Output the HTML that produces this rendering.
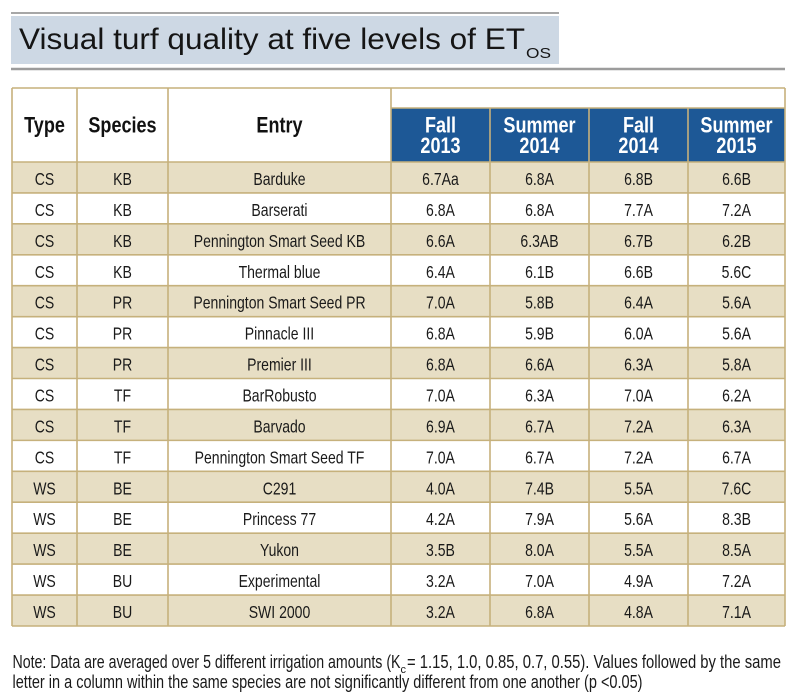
<!DOCTYPE html>
<html>
<head>
<meta charset="utf-8">
<style>
  html,body{margin:0;padding:0;background:#fff;}
  svg{display:block;}
  .t{font-family:"Liberation Sans",sans-serif;font-size:18px;fill:#1a1a1a;}
  .h{font-family:"Liberation Sans",sans-serif;font-size:22px;font-weight:bold;fill:#111;}
  .hw{font-family:"Liberation Sans",sans-serif;font-size:22px;font-weight:bold;fill:#fff;}
  .n{font-family:"Liberation Sans",sans-serif;font-size:18px;fill:#1a1a1a;}
  .title{font-family:"Liberation Sans",sans-serif;font-size:30px;font-weight:300;fill:#151515;}
</style>
</head>
<body>
<svg width="800" height="698" viewBox="0 0 800 698" xmlns="http://www.w3.org/2000/svg">
  <!-- Title -->
  <line x1="11" y1="13" x2="559" y2="13" stroke="#8a8a8a" stroke-width="1.5"/>
  <rect x="11" y="16" width="548" height="48" fill="#cdd8e4"/>
  <text class="title" x="19" y="49" textLength="506" lengthAdjust="spacingAndGlyphs">Visual turf quality at five levels of ET</text>
  <text class="title" x="526" y="58" style="font-size:15px" textLength="25" lengthAdjust="spacingAndGlyphs">OS</text>
  <line x1="11" y1="69" x2="785" y2="69" stroke="#9c9c9c" stroke-width="2.5"/>

  <!-- Row backgrounds -->
  <g fill="#e7dec4">
    <rect x="12" y="162" width="773" height="30.93"/>
    <rect x="12" y="223.86" width="773" height="30.93"/>
    <rect x="12" y="285.72" width="773" height="30.93"/>
    <rect x="12" y="347.58" width="773" height="30.93"/>
    <rect x="12" y="409.44" width="773" height="30.93"/>
    <rect x="12" y="471.3" width="773" height="30.93"/>
    <rect x="12" y="533.16" width="773" height="30.93"/>
    <rect x="12" y="595.02" width="773" height="30.93"/>
  </g>

  <!-- Blue header -->
  <rect x="391" y="108" width="394" height="54" fill="#1d5896"/>

  <!-- Grid -->
  <g stroke="#c6b17c" stroke-width="1.6" fill="none">
    <line x1="12" y1="88" x2="785" y2="88"/>
    <line x1="391" y1="108" x2="785" y2="108"/>
    <line x1="12" y1="162" x2="785" y2="162"/>
    <line x1="12" y1="192.93" x2="785" y2="192.93"/>
    <line x1="12" y1="223.86" x2="785" y2="223.86"/>
    <line x1="12" y1="254.79" x2="785" y2="254.79"/>
    <line x1="12" y1="285.72" x2="785" y2="285.72"/>
    <line x1="12" y1="316.65" x2="785" y2="316.65"/>
    <line x1="12" y1="347.58" x2="785" y2="347.58"/>
    <line x1="12" y1="378.51" x2="785" y2="378.51"/>
    <line x1="12" y1="409.44" x2="785" y2="409.44"/>
    <line x1="12" y1="440.37" x2="785" y2="440.37"/>
    <line x1="12" y1="471.3" x2="785" y2="471.3"/>
    <line x1="12" y1="502.23" x2="785" y2="502.23"/>
    <line x1="12" y1="533.16" x2="785" y2="533.16"/>
    <line x1="12" y1="564.09" x2="785" y2="564.09"/>
    <line x1="12" y1="595.02" x2="785" y2="595.02"/>
    <line x1="12" y1="626" x2="785" y2="626"/>
    <line x1="12" y1="88" x2="12" y2="626"/>
    <line x1="77" y1="88" x2="77" y2="626"/>
    <line x1="168" y1="88" x2="168" y2="626"/>
    <line x1="391" y1="88" x2="391" y2="626"/>
    <line x1="490" y1="108" x2="490" y2="626"/>
    <line x1="589" y1="108" x2="589" y2="626"/>
    <line x1="688" y1="108" x2="688" y2="626"/>
    <line x1="785" y1="88" x2="785" y2="626"/>
  </g>

  <!-- Header text (condensed via scaleX 0.82) -->
  <g text-anchor="middle" transform="scale(0.82,1)">
    <text class="h" x="54.27" y="132.5">Type</text>
    <text class="h" x="149.39" y="132.5">Species</text>
    <text class="h" x="340.85" y="132.5">Entry</text>
    <text class="hw" x="537.2" y="132.5">Fall</text>
    <text class="hw" x="537.2" y="153">2013</text>
    <text class="hw" x="657.93" y="132.5">Summer</text>
    <text class="hw" x="657.93" y="153">2014</text>
    <text class="hw" x="778.66" y="132.5">Fall</text>
    <text class="hw" x="778.66" y="153">2014</text>
    <text class="hw" x="898.17" y="132.5">Summer</text>
    <text class="hw" x="898.17" y="153">2015</text>
  </g>

  <!-- Data (condensed via scaleX 0.78) -->
  <g text-anchor="middle" transform="scale(0.78,1)">
    <g transform="translate(0,185)">
      <text class="t" x="57.05">CS</text><text class="t" x="157.05">KB</text><text class="t" x="358.33">Barduke</text>
      <text class="t" x="564.74">6.7Aa</text><text class="t" x="691.67">6.8A</text><text class="t" x="818.59">6.8B</text><text class="t" x="944.23">6.6B</text>
    </g>
    <g transform="translate(0,215.93)">
      <text class="t" x="57.05">CS</text><text class="t" x="157.05">KB</text><text class="t" x="358.33">Barserati</text>
      <text class="t" x="564.74">6.8A</text><text class="t" x="691.67">6.8A</text><text class="t" x="818.59">7.7A</text><text class="t" x="944.23">7.2A</text>
    </g>
    <g transform="translate(0,246.86)">
      <text class="t" x="57.05">CS</text><text class="t" x="157.05">KB</text><text class="t" x="358.33">Pennington Smart Seed KB</text>
      <text class="t" x="564.74">6.6A</text><text class="t" x="691.67">6.3AB</text><text class="t" x="818.59">6.7B</text><text class="t" x="944.23">6.2B</text>
    </g>
    <g transform="translate(0,277.79)">
      <text class="t" x="57.05">CS</text><text class="t" x="157.05">KB</text><text class="t" x="358.33">Thermal blue</text>
      <text class="t" x="564.74">6.4A</text><text class="t" x="691.67">6.1B</text><text class="t" x="818.59">6.6B</text><text class="t" x="944.23">5.6C</text>
    </g>
    <g transform="translate(0,308.72)">
      <text class="t" x="57.05">CS</text><text class="t" x="157.05">PR</text><text class="t" x="358.33">Pennington Smart Seed PR</text>
      <text class="t" x="564.74">7.0A</text><text class="t" x="691.67">5.8B</text><text class="t" x="818.59">6.4A</text><text class="t" x="944.23">5.6A</text>
    </g>
    <g transform="translate(0,339.65)">
      <text class="t" x="57.05">CS</text><text class="t" x="157.05">PR</text><text class="t" x="358.33">Pinnacle III</text>
      <text class="t" x="564.74">6.8A</text><text class="t" x="691.67">5.9B</text><text class="t" x="818.59">6.0A</text><text class="t" x="944.23">5.6A</text>
    </g>
    <g transform="translate(0,370.58)">
      <text class="t" x="57.05">CS</text><text class="t" x="157.05">PR</text><text class="t" x="358.33">Premier III</text>
      <text class="t" x="564.74">6.8A</text><text class="t" x="691.67">6.6A</text><text class="t" x="818.59">6.3A</text><text class="t" x="944.23">5.8A</text>
    </g>
    <g transform="translate(0,401.51)">
      <text class="t" x="57.05">CS</text><text class="t" x="157.05">TF</text><text class="t" x="358.33">BarRobusto</text>
      <text class="t" x="564.74">7.0A</text><text class="t" x="691.67">6.3A</text><text class="t" x="818.59">7.0A</text><text class="t" x="944.23">6.2A</text>
    </g>
    <g transform="translate(0,432.44)">
      <text class="t" x="57.05">CS</text><text class="t" x="157.05">TF</text><text class="t" x="358.33">Barvado</text>
      <text class="t" x="564.74">6.9A</text><text class="t" x="691.67">6.7A</text><text class="t" x="818.59">7.2A</text><text class="t" x="944.23">6.3A</text>
    </g>
    <g transform="translate(0,463.37)">
      <text class="t" x="57.05">CS</text><text class="t" x="157.05">TF</text><text class="t" x="358.33">Pennington Smart Seed TF</text>
      <text class="t" x="564.74">7.0A</text><text class="t" x="691.67">6.7A</text><text class="t" x="818.59">7.2A</text><text class="t" x="944.23">6.7A</text>
    </g>
    <g transform="translate(0,494.3)">
      <text class="t" x="57.05">WS</text><text class="t" x="157.05">BE</text><text class="t" x="358.33">C291</text>
      <text class="t" x="564.74">4.0A</text><text class="t" x="691.67">7.4B</text><text class="t" x="818.59">5.5A</text><text class="t" x="944.23">7.6C</text>
    </g>
    <g transform="translate(0,525.23)">
      <text class="t" x="57.05">WS</text><text class="t" x="157.05">BE</text><text class="t" x="358.33">Princess 77</text>
      <text class="t" x="564.74">4.2A</text><text class="t" x="691.67">7.9A</text><text class="t" x="818.59">5.6A</text><text class="t" x="944.23">8.3B</text>
    </g>
    <g transform="translate(0,556.16)">
      <text class="t" x="57.05">WS</text><text class="t" x="157.05">BE</text><text class="t" x="358.33">Yukon</text>
      <text class="t" x="564.74">3.5B</text><text class="t" x="691.67">8.0A</text><text class="t" x="818.59">5.5A</text><text class="t" x="944.23">8.5A</text>
    </g>
    <g transform="translate(0,587.09)">
      <text class="t" x="57.05">WS</text><text class="t" x="157.05">BU</text><text class="t" x="358.33">Experimental</text>
      <text class="t" x="564.74">3.2A</text><text class="t" x="691.67">7.0A</text><text class="t" x="818.59">4.9A</text><text class="t" x="944.23">7.2A</text>
    </g>
    <g transform="translate(0,618.02)">
      <text class="t" x="57.05">WS</text><text class="t" x="157.05">BU</text><text class="t" x="358.33">SWI 2000</text>
      <text class="t" x="564.74">3.2A</text><text class="t" x="691.67">6.8A</text><text class="t" x="818.59">4.8A</text><text class="t" x="944.23">7.1A</text>
    </g>
  </g>

  <!-- Note -->
  <text class="n" x="12.5" y="668" textLength="388" lengthAdjust="spacingAndGlyphs">Note: Data are averaged over 5 different irrigation amounts (K</text>
  <text class="n" x="400.5" y="673" style="font-size:11px">c</text>
  <text class="n" x="407" y="668" textLength="374" lengthAdjust="spacingAndGlyphs">= 1.15, 1.0, 0.85, 0.7, 0.55). Values followed by the same</text>
  <text class="n" x="12.5" y="688" textLength="630" lengthAdjust="spacingAndGlyphs">letter in a column within the same species are not significantly different from one another (p &lt;0.05)</text>
</svg>
</body>
</html>
